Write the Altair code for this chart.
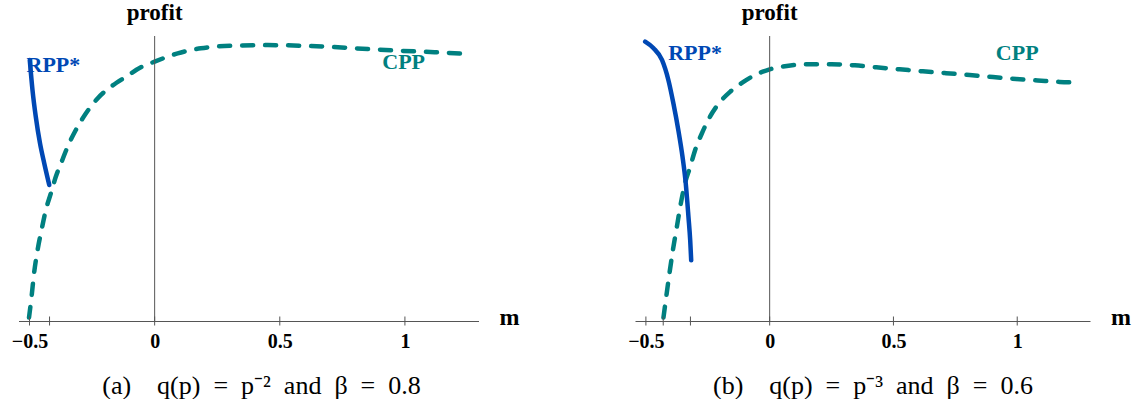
import altair as alt
import pandas as pd

# ---------------- data ----------------
X_DOMAIN = [-0.544, 1.294]
Y_DOMAIN = [0.0, 1.0]
LABEL_TICKS = [-0.5, 0, 0.5, 1]

# panel (a): q(p)=p^-2, beta=0.8
cpp_a_m = [-0.502, -0.492, -0.482, -0.468, -0.452, -0.435, -0.415, -0.395, -0.372,
           -0.348, -0.315, -0.275, -0.228, -0.175, -0.115, -0.055, 0.0, 0.092, 0.185,
           0.318, 0.452, 0.585, 0.718, 0.852, 0.985, 1.118, 1.245]
cpp_a_profit = [0.012, 0.084, 0.166, 0.248, 0.319, 0.389, 0.447, 0.506, 0.558,
                0.611, 0.670, 0.728, 0.781, 0.822, 0.857, 0.890, 0.910, 0.939, 0.957,
                0.966, 0.968, 0.966, 0.961, 0.954, 0.948, 0.943, 0.937]
rpp_a_m = [-0.499, -0.488, -0.475, -0.458, -0.441, -0.421]
rpp_a_profit = [0.916, 0.810, 0.717, 0.623, 0.553, 0.477]
ticks_a = [-0.5, -0.42, 0, 0.5, 1]

# panel (b): q(p)=p^-3, beta=0.6
cpp_b_m = [-0.429, -0.418, -0.405, -0.391, -0.375, -0.359, -0.342, -0.321, -0.301,
           -0.274, -0.241, -0.200, -0.160, -0.106, -0.052, 0.0, 0.069, 0.156, 0.250,
           0.344, 0.431, 0.525, 0.619, 0.707, 0.808, 0.902, 0.996, 1.083, 1.171, 1.244]
cpp_b_profit = [0.012, 0.084, 0.166, 0.248, 0.330, 0.412, 0.483, 0.541, 0.600,
                0.658, 0.717, 0.769, 0.804, 0.839, 0.866, 0.883, 0.895, 0.901, 0.901,
                0.897, 0.890, 0.883, 0.876, 0.870, 0.863, 0.856, 0.849, 0.844, 0.839, 0.837]
rpp_b_m = [-0.503, -0.469, -0.435, -0.409, -0.389, -0.369, -0.352, -0.339, -0.328, -0.321, -0.317]
rpp_b_profit = [0.980, 0.957, 0.916, 0.845, 0.764, 0.670, 0.576, 0.483, 0.365, 0.283, 0.213]
ticks_b = [-0.5, -0.43, -0.32, 0, 0.5, 1]

# label anchors (data coordinates)
rpp_label_a = [-0.512, 0.898]
cpp_label_a = [0.995, 0.910]
rpp_label_b = [-0.41, 0.940]
cpp_label_b = [1.0, 0.940]

EN = "\u2002"
captions = [f"(a){EN}{EN}q(p){EN}={EN}p\u207b\u00b2{EN}and{EN}\u03b2{EN}={EN}0.8",
            f"(b){EN}{EN}q(p){EN}={EN}p\u207b\u00b3{EN}and{EN}\u03b2{EN}={EN}0.6"]

# ---------------- style ----------------
TEAL = "#008080"
BLUE = "#0048b4"
AXIS = "#555555"
SERIF = "Liberation Serif"
HEIGHT = 285

XAXIS = alt.Axis(
    values=LABEL_TICKS, format="~g", ticks=False, tickSize=0, grid=False, domain=True,
    domainColor=AXIS, domainWidth=1, labelFont=SERIF, labelFontWeight="bold",
    labelFontSize=20, labelColor="black", labelPadding=10, title=None,
    labelFlush=False)


def panel(cpp_m, cpp_p, rpp_m, rpp_p, ticks, width, caption, caption_x, rpp_lab, cpp_lab):
    xs = alt.Scale(domain=X_DOMAIN, nice=False, zero=False)
    ys = alt.Scale(domain=Y_DOMAIN, nice=False, zero=False)
    X = lambda: alt.X("m:Q", scale=xs, axis=XAXIS)
    Y = lambda f="profit": alt.Y(f + ":Q", scale=ys, axis=None)

    cpp = alt.Chart(pd.DataFrame({"m": cpp_m, "profit": cpp_p})).mark_line(
        color=TEAL, strokeWidth=4.5, strokeDash=[11, 12], strokeCap="round",
        interpolate="monotone"
    ).encode(x=X(), y=Y())

    rpp = alt.Chart(pd.DataFrame({"m": rpp_m, "profit": rpp_p})).mark_line(
        color=BLUE, strokeWidth=4.5, strokeCap="round", interpolate="monotone"
    ).encode(x=X(), y=Y())

    yline = alt.Chart(pd.DataFrame({"m": [0.0], "lo": [Y_DOMAIN[0]], "hi": [Y_DOMAIN[1]]})).mark_rule(
        color=AXIS, strokeWidth=1
    ).encode(x=X(), y=Y("lo"), y2="hi")

    tickmarks = alt.Chart(pd.DataFrame({"m": ticks})).mark_rule(
        color=AXIS, strokeWidth=1
    ).encode(x=X(), y=alt.value(HEIGHT - 4.5), y2=alt.value(HEIGHT + 4.5))

    one = pd.DataFrame({"m": [0.0]})
    profit_lab = alt.Chart(one).mark_text(
        font=SERIF, fontWeight="bold", fontSize=23,
        align="center", baseline="middle", color="black"
    ).encode(x=X(), y=alt.value(-23), text=alt.value("profit"))

    m_lab = alt.Chart(one).mark_text(
        font=SERIF, fontWeight="bold", fontSize=24,
        align="center", baseline="middle", color="black"
    ).encode(x=alt.value(width + 31), y=alt.value(HEIGHT - 3), text=alt.value("m"))

    cap = alt.Chart(one).mark_text(
        font=SERIF, fontSize=26, align="center", baseline="middle", color="black"
    ).encode(x=alt.value(caption_x), y=alt.value(350), text=alt.value(caption))

    rlab = alt.Chart(pd.DataFrame({"m": [rpp_lab[0]], "profit": [rpp_lab[1]], "t": ["RPP*"]})).mark_text(
        font=SERIF, fontWeight="bold", fontSize=22, align="left",
        baseline="middle", color=BLUE
    ).encode(x=X(), y=Y(), text="t:N")

    clab = alt.Chart(pd.DataFrame({"m": [cpp_lab[0]], "profit": [cpp_lab[1]], "t": ["CPP"]})).mark_text(
        font=SERIF, fontWeight="bold", fontSize=22, align="center",
        baseline="middle", color=TEAL
    ).encode(x=X(), y=Y(), text="t:N")

    return alt.layer(cpp, yline, tickmarks, rpp, rlab, clab, profit_lab, m_lab, cap).properties(
        width=width, height=HEIGHT
    )


pa = panel(cpp_a_m, cpp_a_profit, rpp_a_m, rpp_a_profit, ticks_a, 460, captions[0], 243,
           rpp_label_a, cpp_label_a)
pb = panel(cpp_b_m, cpp_b_profit, rpp_b_m, rpp_b_profit, ticks_b, 455, captions[1], 238,
           rpp_label_b, cpp_label_b)

chart = alt.hconcat(pa, pb, spacing=107.5).properties(
    padding={"left": 10.5, "top": 2, "right": 0, "bottom": 0},
    background="white",
).configure_view(stroke=None)

chart.save("out.html", embed_options={"renderer": "svg", "actions": False})
